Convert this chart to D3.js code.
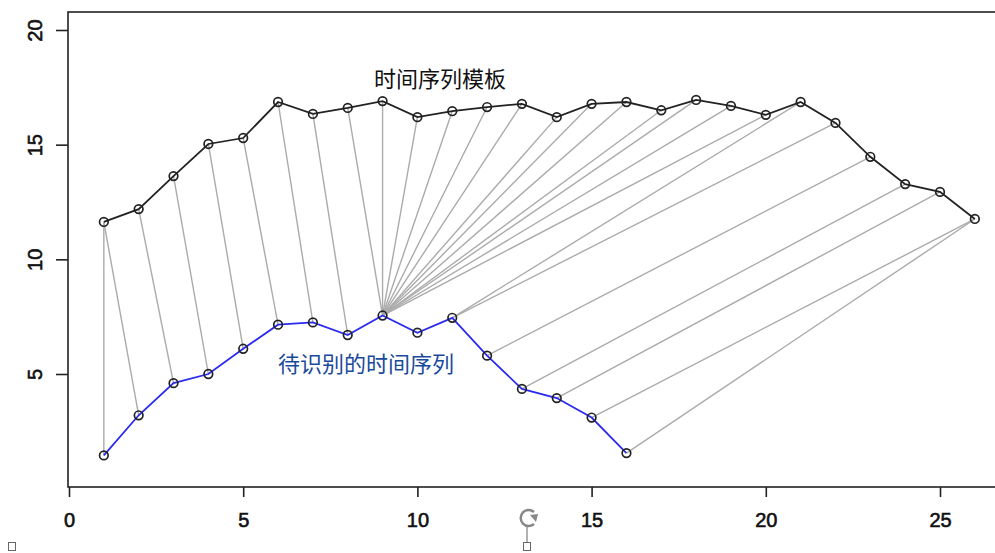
<!DOCTYPE html>
<html>
<head>
<meta charset="utf-8">
<script src="https://cdn.jsdelivr.net/npm/d3@7"></script>
<style>
  body { margin: 0; background: #fff; }
  svg { display: block; }
  .tick text { font-family: "Liberation Sans", Arial, sans-serif; font-size: 20px; fill: #111; stroke: #111; stroke-width: 0.6px; }
</style>
</head>
<body>
<script>
// template series (top, x = 1..26)
const templateValues = [11.63, 12.19, 13.63, 15.03, 15.29, 16.86, 16.34, 16.6, 16.9, 16.2,
  16.46, 16.64, 16.78, 16.2, 16.78, 16.86, 16.5, 16.95, 16.69, 16.3,
  16.86, 15.95, 14.47, 13.28, 12.94, 11.76]
// series to be recognised (bottom, x = 1..16)
const queryValues = [1.45, 3.2, 4.6, 5.0, 6.1, 7.15, 7.25, 6.7, 7.55, 6.8,
  7.45, 5.8, 4.35, 3.95, 3.1, 1.55]
// alignment pairs: [query index, template index]
const alignment = [[1, 1], [2, 1], [3, 2], [4, 3], [5, 4], [6, 5], [7, 6], [8, 7], [9, 8],
  [9, 9], [9, 10], [9, 11], [9, 12], [9, 13], [9, 14], [9, 15], [9, 16], [9, 17], [9, 18], [9, 19], [9, 20],
  [11, 21], [11, 22], [12, 23], [13, 24], [14, 25], [15, 26], [16, 26]]
const xTicks = [0, 5, 10, 15, 20, 25]
const yTicks = [5, 10, 15, 20]
const templateLabel = '时间序列模板'
const queryLabel = '待识别的时间序列'

const width = 995, height = 553

const svg = d3.select('body').append('svg')
    .attr('width', width)
    .attr('height', height)

const xScale = d3.scaleLinear().domain([0, 25]).range([69, 940])
const yScale = d3.scaleLinear().domain([5, 20]).range([374, 30])

// plot box (right edge runs off the picture)
const box = {left: 68, top: 12, right: 1011, bottom: 487}
svg.append('rect')
    .attr('x', box.left).attr('y', box.top)
    .attr('width', box.right - box.left).attr('height', box.bottom - box.top)
    .attr('fill', 'none').attr('stroke', '#222').attr('stroke-width', 1.6)

// x axis
const xAxis = svg.append('g')
    .attr('transform', 'translate(0,' + box.bottom + ')')
    .call(d3.axisBottom(xScale).tickValues(xTicks).tickSize(10).tickPadding(16))
xAxis.select('.domain').remove()
xAxis.selectAll('line').attr('stroke', '#222').attr('stroke-width', 1.6)

// y axis with rotated labels
const yAxis = svg.append('g')
    .attr('transform', 'translate(' + box.left + ',0)')
    .call(d3.axisLeft(yScale).tickValues(yTicks).tickSize(12))
yAxis.select('.domain').remove()
yAxis.selectAll('line').attr('stroke', '#222').attr('stroke-width', 1.6)
yAxis.selectAll('.tick text')
    .attr('x', null).attr('dy', null)
    .attr('text-anchor', 'middle')
    .attr('dominant-baseline', 'central')
    .attr('transform', 'translate(-33,0) rotate(-90)')

// alignment lines
svg.append('g').selectAll('line')
    .data(alignment)
    .enter()
    .append('line')
    .attr('x1', d => xScale(d[0]))
    .attr('y1', d => yScale(queryValues[d[0] - 1]))
    .attr('x2', d => xScale(d[1]))
    .attr('y2', d => yScale(templateValues[d[1] - 1]))
    .attr('stroke', '#ababab')
    .attr('stroke-width', 1.4)

const line = d3.line()
    .x((d, i) => xScale(i + 1))
    .y(d => yScale(d))

svg.append('path')
    .datum(templateValues)
    .attr('d', line)
    .attr('fill', 'none')
    .attr('stroke', '#222')
    .attr('stroke-width', 1.8)

svg.append('path')
    .datum(queryValues)
    .attr('d', line)
    .attr('fill', 'none')
    .attr('stroke', '#2b2bf0')
    .attr('stroke-width', 1.8)

// open circle markers
function drawPoints(values) {
    svg.append('g').selectAll('circle')
        .data(values)
        .enter()
        .append('circle')
        .attr('cx', (d, i) => xScale(i + 1))
        .attr('cy', d => yScale(d))
        .attr('r', 4.3)
        .attr('fill', 'none')
        .attr('stroke', '#222')
        .attr('stroke-width', 1.7)
}
drawPoints(templateValues)
drawPoints(queryValues)

// text labels
svg.append('text')
    .attr('x', 440).attr('y', 77)
    .attr('text-anchor', 'middle')
    .attr('dominant-baseline', 'central')
    .style('font-family', '"Noto Sans CJK SC", sans-serif')
    .style('font-size', '22px')
    .attr('fill', '#111')
    .text(templateLabel)

svg.append('text')
    .attr('x', 366).attr('y', 362)
    .attr('text-anchor', 'middle')
    .attr('dominant-baseline', 'central')
    .style('font-family', '"Noto Sans CJK SC", sans-serif')
    .style('font-size', '22px')
    .attr('fill', '#1a4a9c')
    .text(queryLabel)

// selection handles left over in the screenshot
const handles = svg.append('g').attr('stroke', '#666').attr('fill', '#fff')
handles.append('rect').attr('x', 8.5).attr('y', 542.5).attr('width', 7).attr('height', 8)
handles.append('rect').attr('x', 523.5).attr('y', 542.5).attr('width', 7).attr('height', 8)
handles.append('line').attr('x1', 527).attr('y1', 527).attr('x2', 527).attr('y2', 542)
handles.append('path')
    .attr('d', 'M534,512 A8,8 0 1 0 534,524')
    .attr('fill', 'none').attr('stroke', '#888').attr('stroke-width', 2.5)
handles.append('path')
    .attr('d', 'M530,515 L538,514 L536,522 Z')
    .attr('fill', '#888').attr('stroke', 'none')
</script>
</body>
</html>
